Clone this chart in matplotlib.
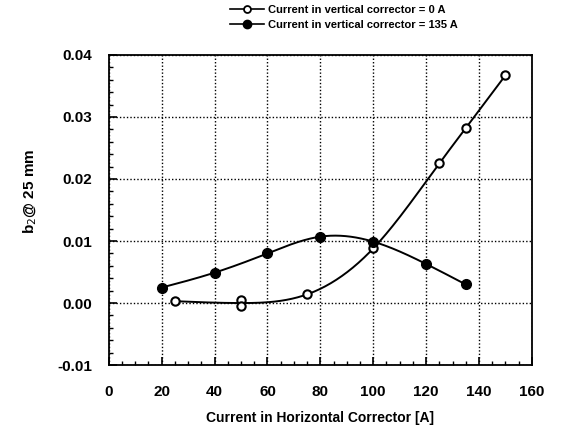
import numpy as np
import matplotlib
matplotlib.use('Agg')
from matplotlib import pyplot as plt
from matplotlib import font_manager
from matplotlib.ticker import MultipleLocator, FormatStrFormatter

plt.rcParams['font.family'] = ['Liberation Sans', 'DejaVu Sans']

# open circles: vertical corrector = 0 A
x_open = [25, 50, 50, 75, 100, 125, 135, 150]
y_open = [0.0003, 0.0005, -0.0005, 0.0014, 0.0088, 0.0225, 0.0282, 0.0367]
# points the smooth curve goes through (the two at 50 A averaged)
x_open_curve = [25, 50, 75, 100, 125, 135, 150]
y_open_curve = [0.0003, 0.0, 0.0014, 0.0088, 0.0225, 0.0282, 0.0367]

# filled circles: vertical corrector = 135 A
x_fill = [20, 40, 60, 80, 100, 120, 135]
y_fill = [0.0025, 0.0049, 0.0080, 0.0107, 0.0099, 0.0063, 0.0030]

label_open = 'Current in vertical corrector = 0 A'
label_fill = 'Current in vertical corrector = 135 A'


def natural_spline(x, y, n=300):
    # plain natural cubic spline, only for drawing the smooth curve
    x = np.asarray(x, float)
    y = np.asarray(y, float)
    k = len(x)
    h = np.diff(x)
    A = np.zeros((k, k))
    r = np.zeros(k)
    A[0, 0] = A[-1, -1] = 1
    for i in range(1, k - 1):
        A[i, i - 1] = h[i - 1]
        A[i, i] = 2 * (h[i - 1] + h[i])
        A[i, i + 1] = h[i]
        r[i] = 3 * ((y[i + 1] - y[i]) / h[i] - (y[i] - y[i - 1]) / h[i - 1])
    c = np.linalg.solve(A, r)
    xs = np.linspace(x[0], x[-1], n)
    idx = np.clip(np.searchsorted(x, xs) - 1, 0, k - 2)
    b = (y[1:] - y[:-1]) / h - h * (2 * c[:-1] + c[1:]) / 3
    d = (c[1:] - c[:-1]) / (3 * h)
    t = xs - x[idx]
    ys = y[idx] + b[idx] * t + c[idx] * t ** 2 + d[idx] * t ** 3
    return xs, ys


# the legend text in the scan is narrow
names = {f.name for f in font_manager.fontManager.ttflist}
if 'Liberation Sans Narrow' in names:
    leg_prop = {'family': 'Liberation Sans Narrow', 'size': 9, 'weight': 'bold'}
else:
    leg_prop = {'size': 8, 'weight': 'bold'}

fig = plt.figure(figsize=(5.61, 4.29), dpi=100)
ax = fig.add_axes([0.194, 0.149, 0.754, 0.723])

xs, ys = natural_spline(x_open_curve, y_open_curve)
ax.plot(xs, ys, color='black', linewidth=1.4, zorder=3)
xs, ys = natural_spline(x_fill, y_fill)
ax.plot(xs, ys, color='black', linewidth=1.4, zorder=3)

ax.plot(x_open, y_open, linestyle='none', marker='o', markersize=6,
        markerfacecolor='white', markeredgecolor='black', markeredgewidth=1.5, zorder=4)
ax.plot(x_fill, y_fill, linestyle='none', marker='o', markersize=7,
        markerfacecolor='black', markeredgecolor='black', zorder=4)

# legend handles
h1, = ax.plot([], [], color='black', linewidth=1.2, marker='o', markersize=5,
              markerfacecolor='white', markeredgecolor='black', markeredgewidth=1.3)
h2, = ax.plot([], [], color='black', linewidth=1.2, marker='o', markersize=6,
              markerfacecolor='black')
fig.legend([h1, h2], [label_open, label_fill], loc='upper left',
           bbox_to_anchor=(0.396, 1.006), frameon=False, handlelength=3.1,
           handletextpad=0.3, labelspacing=0.4, borderpad=0.2,
           prop=leg_prop)

ax.set_xlim(0, 160)
ax.set_ylim(-0.01, 0.04)
ax.xaxis.set_major_locator(MultipleLocator(20))
ax.xaxis.set_minor_locator(MultipleLocator(5))
ax.yaxis.set_major_locator(MultipleLocator(0.01))
ax.yaxis.set_minor_locator(MultipleLocator(0.002))
ax.yaxis.set_major_formatter(FormatStrFormatter('%.2f'))
ax.tick_params(which='both', direction='in', top=False, right=False)
ax.tick_params(which='major', length=6, width=1.2, labelsize=11)
ax.tick_params(axis='x', which='major', pad=14)
ax.tick_params(axis='y', which='major', pad=12)
ax.tick_params(which='minor', length=3, width=1)
for lab in ax.get_xticklabels() + ax.get_yticklabels():
    lab.set_fontweight('bold')

ax.grid(True, which='major', linestyle=(0, (1, 1.5)), color='black', linewidth=1)
for s in ax.spines.values():
    s.set_linewidth(1.3)

ax.set_xlabel('Current in Horizontal Corrector [A]', fontsize=10, fontweight='bold',
              labelpad=9)
ax.set_ylabel('b$_2$@ 25 mm', fontsize=11, fontweight='bold', labelpad=14)
ax.yaxis.set_label_coords(-0.165, 0.56)

fig.savefig('out.png', dpi=100)
